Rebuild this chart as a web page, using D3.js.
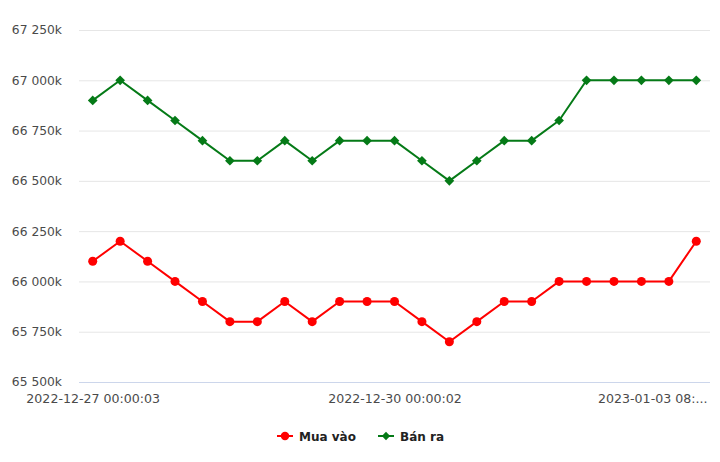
<!DOCTYPE html>
<html><head><meta charset="utf-8">
<script src="https://cdn.jsdelivr.net/npm/d3@7"></script>
<style>body{margin:0;background:#fff}svg{display:block}svg text{font-family:"DejaVu Sans",Verdana,sans-serif}</style>
</head><body><svg id="c" width="720" height="462"></svg>
<script>
const categories = [
  "2022-12-27 00:00:03","2022-12-27 08:30:02","2022-12-27 10:15:01","2022-12-27 14:00:02",
  "2022-12-28 00:00:02","2022-12-28 08:30:01","2022-12-28 14:00:03","2022-12-29 00:00:02",
  "2022-12-29 08:30:02","2022-12-29 10:00:01","2022-12-29 14:30:02","2022-12-30 00:00:02",
  "2022-12-30 08:30:01","2022-12-30 10:30:02","2022-12-30 14:00:01","2022-12-31 00:00:02",
  "2022-12-31 08:30:02","2023-01-01 00:00:02","2023-01-02 00:00:03","2023-01-02 08:30:01",
  "2023-01-02 14:00:02","2023-01-03 00:00:02","2023-01-03 08:30:02"
];
const muaVao = [66100,66200,66100,66000,65900,65800,65800,65900,65800,65900,65900,65900,65800,65700,65800,65900,65900,66000,66000,66000,66000,66000,66200];
const banRa  = [66900,67000,66900,66800,66700,66600,66600,66700,66600,66700,66700,66700,66600,66500,66600,66700,66700,66800,67000,67000,67000,67000,67000];
const yTicks = [65500,65750,66000,66250,66500,66750,67000,67250];
const xTickIdx = [0,11,22];
const seriesNames = ["Mua vào","Bán ra"];
const seriesColors = ["#ff0000","#057a17"];

const FONT = '"DejaVu Sans", Verdana, sans-serif';
const svg = d3.select("#c");
const L=79, R=710, T=30, B=382;
const x = d3.scalePoint().domain(categories).range([L,R]).padding(0.5);
const y = d3.scaleLinear().domain([65500,67250]).range([B,T]);
const fmt = v => d3.format(",")(v).replace(/,/g," ") + "k";

// grid
const yAxis = d3.axisLeft(y).tickValues(yTicks).tickSize(-(R-L)).tickFormat(fmt).tickPadding(17);
const gy = svg.append("g").attr("transform",`translate(${L},0)`).call(yAxis).attr("font-family",FONT);
gy.select(".domain").remove();
gy.selectAll(".tick line").attr("stroke","#e6e6e6");
gy.selectAll(".tick").filter(d=>d===65500).select("line").attr("stroke","#ccd6eb");
gy.selectAll(".tick text").attr("fill","#4a4a4a").attr("font-size",12.3);

// x axis
const xAxis = d3.axisBottom(x).tickValues(xTickIdx.map(i=>categories[i])).tickSize(0).tickPadding(12);
const gx = svg.append("g").attr("transform",`translate(0,${B})`).call(xAxis).attr("font-family",FONT);
gx.select(".domain").remove();
gx.selectAll(".tick text").attr("fill","#4a4a4a").attr("font-size",12.6).each(function(d){
  const t = d3.select(this);
  const cx = x(d);
  const w = this.getComputedTextLength();
  if (cx + w/2 > 708) {
    let s = d;
    const avail = 114;
    while (this.getComputedTextLength() > avail && s.length>1) { s = s.slice(0,-1); t.text(s.trimEnd()+"..."); }
    t.attr("text-anchor","end").attr("x", 707-cx);
  }
});

// lines
const series = [muaVao, banRa];
series.forEach((vals,si)=>{
  const line = d3.line().x((d,i)=>x(categories[i])).y(d=>y(d));
  svg.append("path").datum(vals).attr("d",line).attr("fill","none")
    .attr("stroke",seriesColors[si]).attr("stroke-width",2).attr("stroke-linejoin","round");
  const sym = si===0 ? d3.symbol(d3.symbolCircle,64) : d3.symbol(d3.symbolDiamond2,60);
  svg.append("g").selectAll("path").data(vals).join("path")
    .attr("d",sym).attr("fill",seriesColors[si])
    .attr("transform",(d,i)=>`translate(${x(categories[i])},${y(d)})`);
});

// legend
const lg = svg.append("g");
const items = [{x:277},{x:378}];
seriesNames.forEach((n,si)=>{
  const g = lg.append("g").attr("transform",`translate(${items[si].x},436)`);
  g.append("line").attr("x1",0).attr("x2",16).attr("y1",0).attr("y2",0).attr("stroke",seriesColors[si]).attr("stroke-width",2);
  const sym = si===0 ? d3.symbol(d3.symbolCircle,56) : d3.symbol(d3.symbolDiamond2,44);
  g.append("path").attr("d",sym).attr("fill",seriesColors[si]).attr("transform","translate(8,0)");
  g.append("text").attr("x",22).attr("y",5).attr("font-size",12).attr("font-weight","bold").attr("fill","#222").text(n);
});
</script></body></html>
